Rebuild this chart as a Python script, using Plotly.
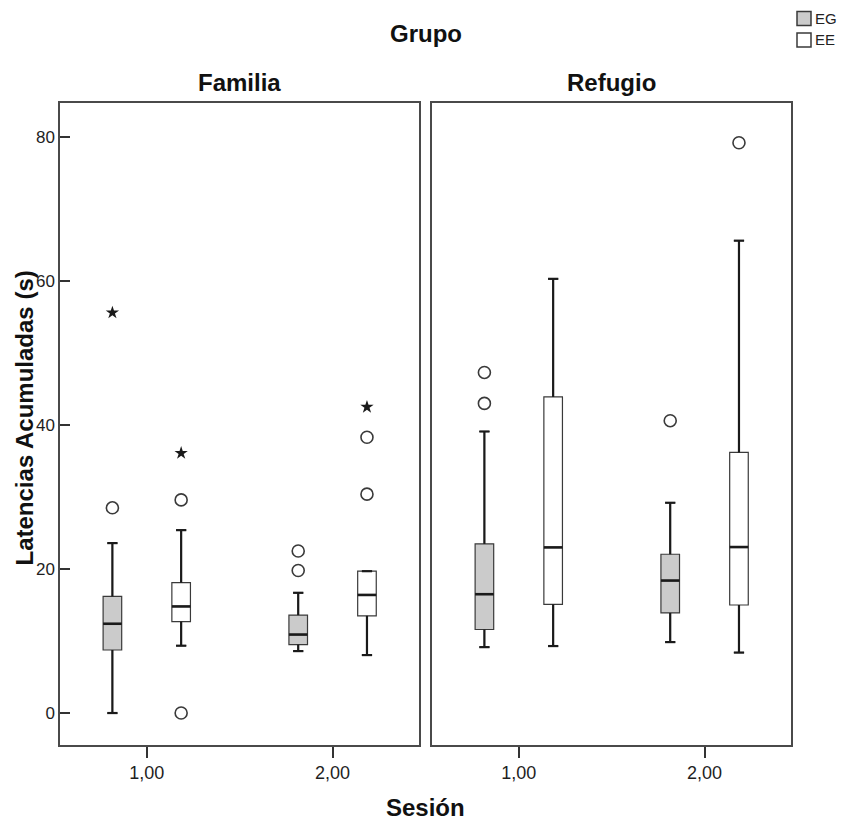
import plotly.graph_objects as go
from plotly.subplots import make_subplots

# Sessions on the x axis and the two groups drawn side by side in each session
sessions = [1, 2]
session_labels = ["1,00", "2,00"]
groups = ["EG", "EE"]
panels = ["Familia", "Refugio"]
y_ticks = [0, 20, 40, 60, 80]

# Box statistics per panel and group, ordered by session [1,00, 2,00]
fam_eg_q1 = [8.75, 9.5]
fam_eg_med = [12.4, 10.9]
fam_eg_q3 = [16.2, 13.6]
fam_eg_lo = [0.0, 8.6]
fam_eg_hi = [23.6, 16.7]

fam_ee_q1 = [12.7, 13.5]
fam_ee_med = [14.8, 16.4]
fam_ee_q3 = [18.1, 19.7]
fam_ee_lo = [9.35, 8.05]
fam_ee_hi = [25.4, 19.7]

ref_eg_q1 = [11.6, 13.9]
ref_eg_med = [16.5, 18.4]
ref_eg_q3 = [23.5, 22.05]
ref_eg_lo = [9.15, 9.85]
ref_eg_hi = [39.1, 29.2]

ref_ee_q1 = [15.1, 15.0]
ref_ee_med = [23.0, 23.05]
ref_ee_q3 = [43.9, 36.2]
ref_ee_lo = [9.3, 8.4]
ref_ee_hi = [60.3, 65.6]

# Outliers (circles) and extreme values (asterisks), one list per session
fam_eg_out = [[28.5], [22.5, 19.8]]
fam_eg_ext = [[55.6], []]
fam_ee_out = [[29.6, 0.0], [38.3, 30.4]]
fam_ee_ext = [[36.1], [42.5]]
ref_eg_out = [[47.3, 43.0], [40.6]]
ref_eg_ext = [[], []]
ref_ee_out = [[], [79.2]]
ref_ee_ext = [[], []]

fill_colors = {"EG": "#cbcbcb", "EE": "#ffffff"}
offsets = {"EG": -0.185, "EE": 0.185}
box_w = 0.1
dark = "#1a1a1a"
outline = "#3a3a3a"

stats = {
    ("Familia", "EG"): (fam_eg_q1, fam_eg_med, fam_eg_q3, fam_eg_lo, fam_eg_hi, fam_eg_out, fam_eg_ext),
    ("Familia", "EE"): (fam_ee_q1, fam_ee_med, fam_ee_q3, fam_ee_lo, fam_ee_hi, fam_ee_out, fam_ee_ext),
    ("Refugio", "EG"): (ref_eg_q1, ref_eg_med, ref_eg_q3, ref_eg_lo, ref_eg_hi, ref_eg_out, ref_eg_ext),
    ("Refugio", "EE"): (ref_ee_q1, ref_ee_med, ref_ee_q3, ref_ee_lo, ref_ee_hi, ref_ee_out, ref_ee_ext),
}

fig = make_subplots(rows=1, cols=2, horizontal_spacing=0.0178, shared_yaxes=True)

for col, panel in enumerate(panels, start=1):
    for g in groups:
        q1, med, q3, lo, hi, outs, exts = stats[(panel, g)]
        xs = [s + offsets[g] for s in sessions]
        fig.add_trace(
            go.Box(
                x=xs, q1=q1, median=med, q3=q3, lowerfence=lo, upperfence=hi,
                width=box_w, whiskerwidth=0.55, boxpoints=False,
                fillcolor=fill_colors[g], line=dict(color=outline, width=1.2),
                showlegend=False, hoverinfo="skip",
            ),
            row=1, col=col,
        )
        # heavier whiskers, caps and median bars
        wx, wy, mx, my = [], [], [], []
        cap = box_w * 0.55 / 2
        for x, a, m, b, l, h in zip(xs, q1, med, q3, lo, hi):
            wx += [x, x, None, x, x, None, x - cap, x + cap, None, x - cap, x + cap, None]
            wy += [b, h, None, l, a, None, h, h, None, l, l, None]
            mx += [x - box_w / 2, x + box_w / 2, None]
            my += [m, m, None]
        fig.add_trace(go.Scatter(x=wx, y=wy, mode="lines", line=dict(color=dark, width=2.2),
                                 showlegend=False, hoverinfo="skip"), row=1, col=col)
        fig.add_trace(go.Scatter(x=mx, y=my, mode="lines", line=dict(color=dark, width=2.6),
                                 showlegend=False, hoverinfo="skip"), row=1, col=col)
        ox, oy, ex, ey = [], [], [], []
        for x, o, e in zip(xs, outs, exts):
            ox += [x] * len(o)
            oy += o
            ex += [x] * len(e)
            ey += e
        fig.add_trace(go.Scatter(x=ox, y=oy, mode="markers",
                                 marker=dict(symbol="circle-open", size=12, color=outline,
                                             line=dict(width=1.6)),
                                 showlegend=False, hoverinfo="skip"), row=1, col=col)
        fig.add_trace(go.Scatter(x=ex, y=ey, mode="markers",
                                 marker=dict(symbol="star", size=10, color=dark,
                                             line=dict(width=0)),
                                 showlegend=False, hoverinfo="skip"), row=1, col=col)

font_family = "Liberation Sans, Arial, sans-serif"
axis_common = dict(showline=True, mirror=True, linecolor="#4a4a4a", linewidth=1.5,
                   showgrid=False, zeroline=False)

for col in (1, 2):
    fig.update_xaxes(range=[0.533, 2.465], tickvals=sessions, ticktext=session_labels,
                     ticks="outside", ticklen=11, tickcolor="#333", tickwidth=1.5,
                     tickfont=dict(size=18, color="#1e1e1e"), row=1, col=col, **axis_common)
fig.update_yaxes(range=[-4.44, 84.72], tickvals=y_ticks,
                 ticks="inside", ticklen=10, tickcolor="#333", tickwidth=1.5,
                 tickfont=dict(size=17, color="#1e1e1e"), row=1, col=1, **axis_common)
fig.update_yaxes(range=[-4.44, 84.72], ticks="", showticklabels=False, row=1, col=2,
                 **axis_common)

title_font = dict(family=font_family, size=24, color="#111")
d1 = fig.layout.xaxis.domain
d2 = fig.layout.xaxis2.domain
annotations = [
    dict(text="<b>Grupo</b>", x=0.5, y=1.109, xref="paper", yref="paper",
         showarrow=False, font=title_font, xanchor="center", yanchor="middle"),
    dict(text="<b>Familia</b>", x=(d1[0] + d1[1]) / 2, y=1.032, xref="paper", yref="paper",
         showarrow=False, font=title_font, xanchor="center", yanchor="middle"),
    dict(text="<b>Refugio</b>", x=(d2[0] + d2[1]) / 2, y=1.032, xref="paper", yref="paper",
         showarrow=False, font=title_font, xanchor="center", yanchor="middle"),
    dict(text="<b>Sesión</b>", x=0.5, y=-0.098, xref="paper", yref="paper",
         showarrow=False, font=title_font, xanchor="center", yanchor="middle"),
    dict(text="<b>Latencias Acumuladas (s)</b>", x=-0.048, y=0.51, xref="paper", yref="paper",
         showarrow=False, textangle=-90, font=title_font, xanchor="center", yanchor="middle"),
]

# group key in the top right corner: swatch plus label per group
plot_w, plot_h, left, bottom = 731, 642, 60, 745
shapes = []
key_rows = [18.5, 40.0]
for g, cy in zip(groups, key_rows):
    shapes.append(dict(type="rect", xref="paper", yref="paper",
                       x0=(797 - left) / plot_w, x1=(811 - left) / plot_w,
                       y0=(bottom - (cy + 7)) / plot_h, y1=(bottom - (cy - 7)) / plot_h,
                       fillcolor=fill_colors[g], line=dict(color=outline, width=1.5)))
    annotations.append(dict(text=g, x=(813 - left) / plot_w, y=(bottom - cy) / plot_h,
                            xref="paper", yref="paper", showarrow=False,
                            xanchor="left", yanchor="middle",
                            font=dict(family=font_family, size=15, color="#222")))

fig.update_layout(
    width=843, height=821,
    margin=dict(l=left, r=843 - left - plot_w, t=103, b=821 - bottom, autoexpand=False),
    paper_bgcolor="white", plot_bgcolor="white",
    font=dict(family=font_family, color="#222"),
    boxmode="overlay",
    annotations=annotations,
    shapes=shapes,
    showlegend=False,
)

fig.write_html("out.html")
